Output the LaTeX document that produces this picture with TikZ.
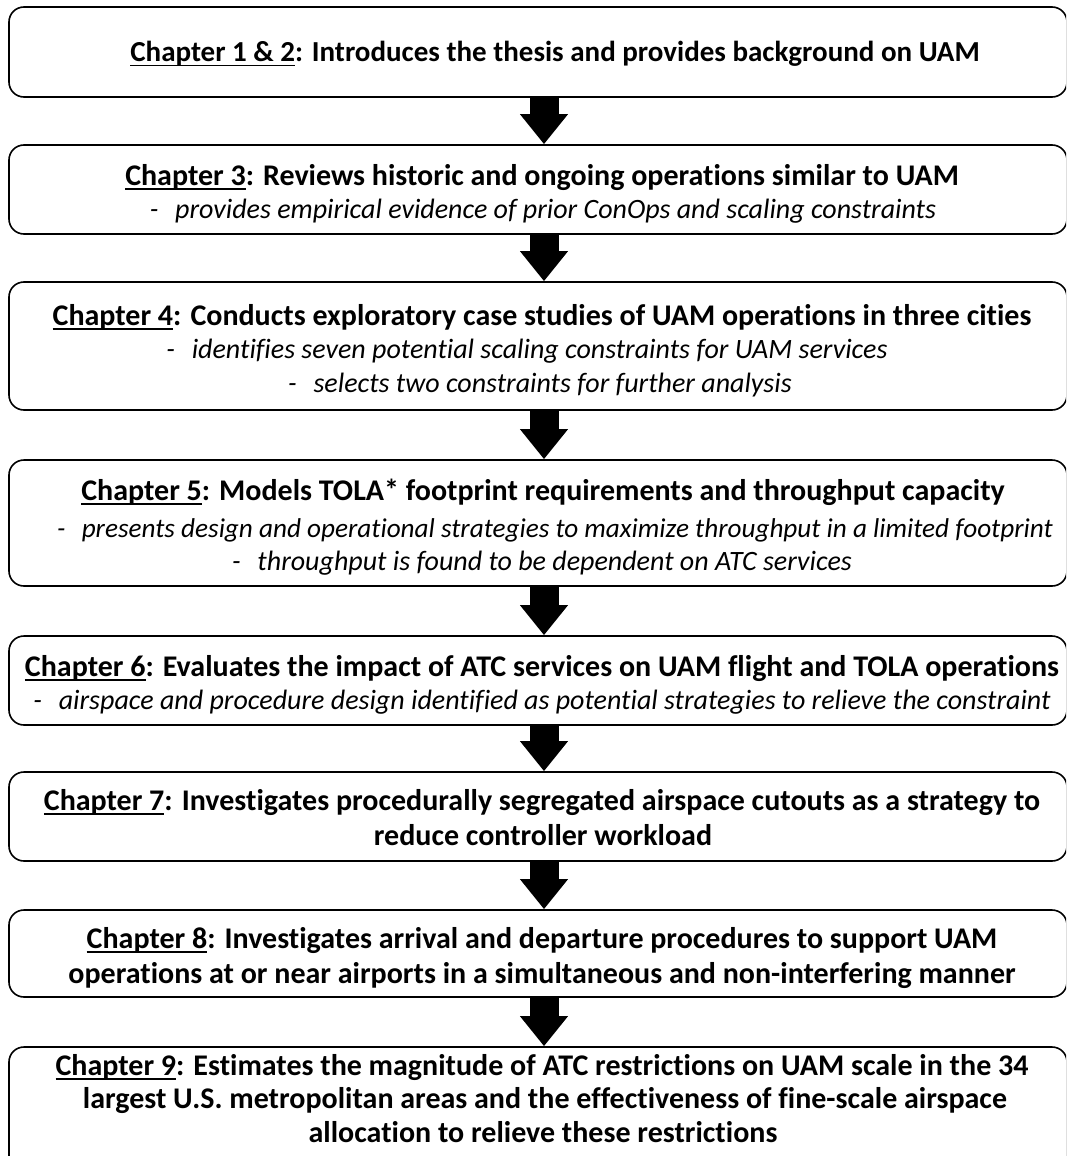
\documentclass[tikz,border=0pt]{standalone}
\usepackage{fontspec}
\setmainfont{Carlito}[Ligatures=CommonOff]
\usetikzlibrary{arrows.meta}
\newcommand\chapu[1]{\setbox0\hbox{#1}\rlap{\rule[-4.5pt]{\wd0}{1.7pt}}\box0}
\newcommand\dsh{-\hspace{0.6em}}
\begin{document}
\begin{tikzpicture}[x=1pt,y=-1pt,
  box/.style={draw=black, line width=1.6pt, rounded corners=15pt, minimum width=1058pt, inner sep=0pt},
  ttl/.style={font=\fontsize{30}{33}\selectfont\bfseries, anchor=base, inner sep=0pt},
  sub/.style={font=\fontsize{28}{33}\selectfont\itshape, anchor=base, inner sep=0pt},
  flow/.style={line width=29pt, -{Triangle[width=46pt,length=30pt]}}]
\useasboundingbox (0,0) rectangle (1066,1156);
\clip (0,0) rectangle (1066,1156);
% boxes
\node[box, minimum height=90pt]  (b1) at (538,52) {};
\node[box, minimum height=89pt]  (b2) at (538,189.5) {};
\node[box, minimum height=128pt] (b3) at (538,346) {};
\node[box, minimum height=126pt] (b4) at (538,523) {};
\node[box, minimum height=89pt]  (b5) at (538,680.5) {};
\node[box, minimum height=89pt]  (b6) at (538,816.5) {};
\node[box, minimum height=87pt]  (b7) at (538,953.5) {};
\node[box, minimum height=128pt] (b8) at (538,1111) {};
% arrows
\draw[flow] (b1.south -| 544,0) -- (b2.north -| 544,0);
\draw[flow] (b2.south -| 544,0) -- (b3.north -| 544,0);
\draw[flow] (b3.south -| 544,0) -- (b4.north -| 544,0);
\draw[flow] (b4.south -| 544,0) -- (b5.north -| 544,0);
\draw[flow] (b5.south -| 544,0) -- (b6.north -| 544,0);
\draw[flow] (b6.south -| 544,0) -- (b7.north -| 544,0);
\draw[flow] (b7.south -| 544,0) -- (b8.north -| 544,0);
% texts
\node[ttl, font=\fontsize{29}{33}\selectfont\bfseries] (t1) at (555,62) {\chapu{Chapter 1 \& 2}: Introduces the thesis and provides background on UAM};
\node[ttl] (t2) at (542,185) {\chapu{Chapter 3}: Reviews historic and ongoing operations similar to UAM};
\node[sub] (s2) at (543,218) {\dsh provides empirical evidence of prior ConOps and scaling constraints};
\node[ttl] (t3) at (542,325) {\chapu{Chapter 4}: Conducts exploratory case studies of UAM operations in three cities};
\node[sub] (s3a) at (527,358) {\dsh identifies seven potential scaling constraints for UAM services};
\node[sub] (s3b) at (540,392) {\dsh selects two constraints for further analysis};
\node[ttl] (t4) at (543,500) {\chapu{Chapter 5}: Models TOLA* footprint requirements and throughput capacity};
\node[sub, font=\fontsize{27.2}{33}\selectfont\itshape] (s4a) at (555,537) {\dsh presents design and operational strategies to maximize throughput in a limited footprint};
\node[sub] (s4b) at (542,570) {\dsh throughput is found to be dependent on ATC services};
\node[ttl] (t5) at (542,676) {\chapu{Chapter 6}: Evaluates the impact of ATC services on UAM flight and TOLA operations};
\node[sub] (s5) at (542,709) {\dsh airspace and procedure design identified as potential strategies to relieve the constraint};
\node[ttl] (t6a) at (542,810) {\chapu{Chapter 7}: Investigates procedurally segregated airspace cutouts as a strategy to};
\node[ttl] (t6b) at (543,845) {reduce controller workload};
\node[ttl] (t7a) at (542,948) {\chapu{Chapter 8}: Investigates arrival and departure procedures to support UAM};
\node[ttl] (t7b) at (542,983) {operations at or near airports in a simultaneous and non-interfering manner};
\node[ttl] (t8a) at (542,1075) {\chapu{Chapter 9}: Estimates the magnitude of ATC restrictions on UAM scale in the 34};
\node[ttl] (t8b) at (545,1108) {largest U.S. metropolitan areas and the effectiveness of fine-scale airspace};
\node[ttl] (t8c) at (543,1142) {allocation to relieve these restrictions};
\end{tikzpicture}
\end{document}
